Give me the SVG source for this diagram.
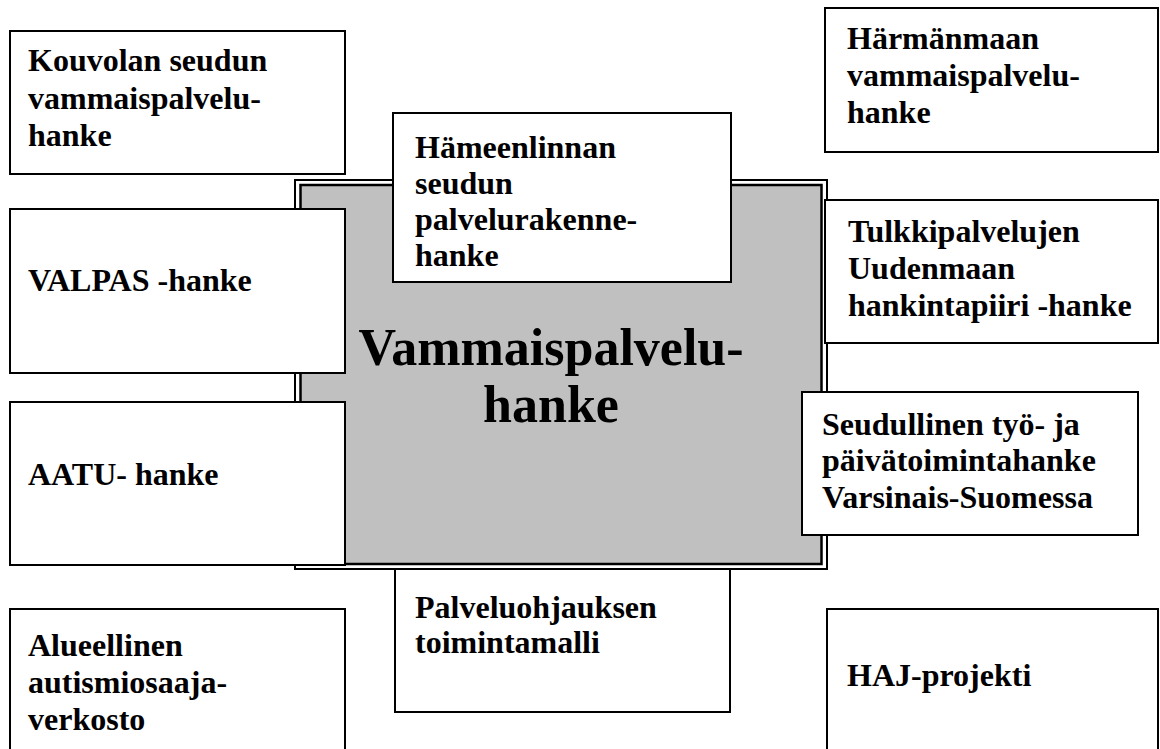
<svg xmlns="http://www.w3.org/2000/svg" width="1160" height="749" viewBox="0 0 1160 749">
<style>
.box{fill:#fff;stroke:#000;stroke-width:2}
.t{font-family:"Liberation Serif","Times New Roman",serif;font-weight:bold;font-size:32px;fill:#000}
.big{font-family:"Liberation Serif","Times New Roman",serif;font-weight:bold;font-size:52px;fill:#000;text-anchor:middle}
</style>
<rect width="1160" height="749" fill="#fff"/>
<g id="connectors"></g>
<g id="center">
<rect x="295" y="180" width="532" height="389" fill="#fff" stroke="#000" stroke-width="2"/>
<rect x="300.5" y="185" width="521" height="379" fill="#c0c0c0" stroke="#000" stroke-width="2.5"/>
<text class="big" x="551" y="365">Vammaispalvelu-</text>
<text class="big" x="551" y="422">hanke</text>
</g>
<g id="kouvola">
<rect class="box" x="10" y="31" width="335" height="143"/>
<text class="t" x="28"><tspan x="28" y="71">Kouvolan seudun</tspan><tspan x="28" y="109">vammaispalvelu-</tspan><tspan x="28" y="146">hanke</tspan></text>
</g>
<g id="harmanmaa">
<rect class="box" x="825" y="8" width="333" height="144"/>
<text class="t"><tspan x="847" y="49">Härmänmaan</tspan><tspan x="847" y="86">vammaispalvelu-</tspan><tspan x="847" y="123">hanke</tspan></text>
</g>
<g id="hameenlinna">
<rect class="box" x="393" y="113" width="338" height="169"/>
<text class="t"><tspan x="415" y="158">Hämeenlinnan</tspan><tspan x="415" y="194">seudun</tspan><tspan x="415" y="230">palvelurakenne-</tspan><tspan x="415" y="266">hanke</tspan></text>
</g>
<g id="valpas">
<rect class="box" x="10" y="209" width="335" height="164"/>
<text class="t" x="28" y="291">VALPAS -hanke</text>
</g>
<g id="tulkki">
<rect class="box" x="825" y="200" width="333" height="143"/>
<text class="t"><tspan x="848" y="242">Tulkkipalvelujen</tspan><tspan x="848" y="279">Uudenmaan</tspan><tspan x="848" y="316">hankintapiiri -hanke</tspan></text>
</g>
<g id="aatu">
<rect class="box" x="10" y="402" width="335" height="163"/>
<text class="t" x="28" y="485">AATU- hanke</text>
</g>
<g id="seudullinen">
<rect class="box" x="802" y="392" width="336" height="143"/>
<text class="t"><tspan x="822" y="435">Seudullinen työ- ja</tspan><tspan x="822" y="471">päivätoimintahanke</tspan><tspan x="822" y="508">Varsinais-Suomessa</tspan></text>
</g>
<g id="palveluohjaus">
<rect class="box" x="395" y="569" width="335" height="143"/>
<text class="t"><tspan x="415" y="618">Palveluohjauksen</tspan><tspan x="415" y="653">toimintamalli</tspan></text>
</g>
<g id="alueellinen">
<rect class="box" x="10" y="609" width="335" height="160"/>
<text class="t"><tspan x="28" y="656">Alueellinen</tspan><tspan x="28" y="693">autismiosaaja-</tspan><tspan x="28" y="730">verkosto</tspan></text>
</g>
<g id="haj">
<rect class="box" x="827" y="609" width="331" height="160"/>
<text class="t" x="847" y="686">HAJ-projekti</text>
</g>
</svg>
